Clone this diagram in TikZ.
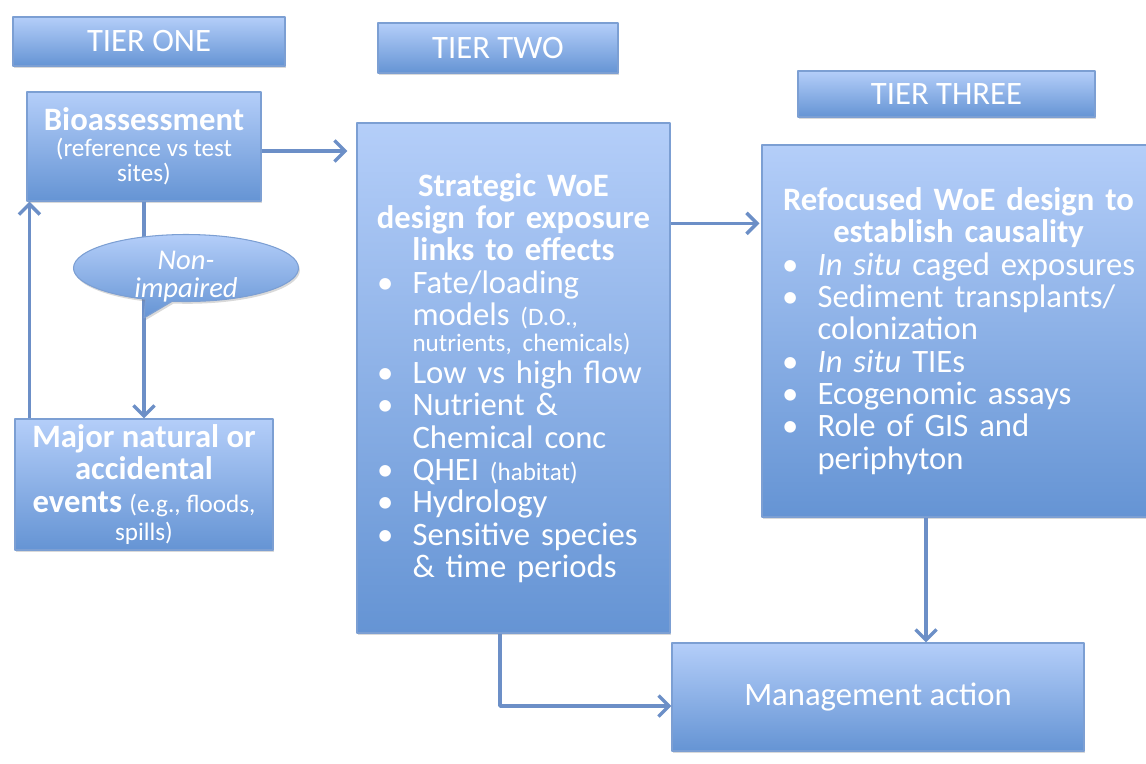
\documentclass[tikz,border=0pt]{standalone}
\usepackage{fontspec}
\setmainfont{Carlito}
\usetikzlibrary{arrows.meta,shadows,shapes.callouts}

\definecolor{boxtop}{RGB}{180,206,249}
\definecolor{boxbot}{RGB}{101,148,212}
\definecolor{boxedge}{RGB}{124,159,211}
\definecolor{linkcol}{RGB}{108,143,199}

\newcommand{\bigtxt}{\fontsize{18.6}{18.4}\selectfont}
\newcommand{\smtxt}{\fontsize{14.3}{14.6}\selectfont}
\newcommand{\bitem}{\hspace*{0.07cm}\makebox[0.71cm][l]{•}}
\newcommand{\bcont}{\hspace*{0.78cm}}

\begin{document}
\begin{tikzpicture}[x=0.02cm,y=-0.02cm,>={Straight Barb[length=2.1mm,width=4.2mm]},line join=round,
	panel/.style={draw=boxedge,line width=0.6pt,top color=boxtop,bottom color=boxbot,text=white,inner sep=0pt,
		drop shadow={shadow xshift=0.8pt,shadow yshift=-1.3pt,opacity=0.3}},
	dims/.style 2 args={minimum width=#1*0.02cm,minimum height=#2*0.02cm},
	tier/.style={panel,font=\bigtxt},
	link/.style={draw=linkcol,line width=2pt}]
	\useasboundingbox (0,0) rectangle (1146,764);
	% tier headers
	\node[tier,dims={272}{49}] (tone) at (149,41.5) {TIER ONE};
	\node[tier,dims={240}{50}] (ttwo) at (498,48) {TIER TWO};
	\node[tier,dims={297}{46}] (tthree) at (946.5,94) {TIER THREE};
	% boxes
	\node[panel,dims={234}{109},align=center,font=\smtxt] (bio) at (144,146.5)
		{{\bigtxt\bfseries Bioassessment}\\(reference vs test\\sites)};
	\node[panel,dims={258}{131},align=center,font=\bigtxt\bfseries] (major) at (144,484.5)
		{Major natural or\\accidental\\events {\mdseries\smtxt(e.g., floods,}\\[-2.5pt]{\mdseries\smtxt spills)}};
	\node[panel,dims={313}{510},text width=5.6cm,align=left,font=\bigtxt] (strat) at (513.5,378)
		{{\centering\bfseries Strategic WoE\\design for exposure\\links to effects\par}
		\bitem Fate/loading\\
		\bcont models {\smtxt(D.O.,}\\[-3.7pt]
		\bcont{\smtxt nutrients, chemicals)}\\
		\bitem Low vs high flow\\
		\bitem Nutrient \&\\
		\bcont Chemical conc\\
		\bitem QHEI {\smtxt(habitat)}\\
		\bitem Hydrology\\
		\bitem Sensitive species\\
		\bcont \& time periods};
	\node[panel,dims={393}{372},text width=7.2cm,align=left,font=\bigtxt] (refoc) at (958.5,331)
		{{\centering\bfseries Refocused WoE design to\\establish causality\par}
		\bitem \textit{In situ} caged exposures\\
		\bitem Sediment transplants/\\
		\bcont colonization\\
		\bitem \textit{In situ} TIEs\\
		\bitem Ecogenomic assays\\
		\bitem Role of GIS and\\
		\bcont periphyton};
	\node[panel,dims={412}{108},font=\bigtxt] (mgmt) at (878,697) {Management action};
	% links
	\draw[link,->] (bio) -- (major);
	\draw[link,->] ([xshift=0.3cm]major.north west) -- ([xshift=0.3cm]major.north west |- bio.south);
	\draw[link,->,shorten >=0.18cm] ([yshift=-0.09cm]bio.east) -- ([yshift=-0.09cm]bio.east -| strat.west);
	\draw[link,->,shorten >=0.04cm] ([yshift=-2.02cm]strat.north east) -- ([yshift=-2.02cm]strat.north east -| refoc.west);
	\draw[link,->] ([xshift=0.96cm]mgmt.north |- refoc.south) -- ([xshift=0.96cm]mgmt.north);
	\draw[link,->] ([xshift=-0.27cm]strat.south) |- ([yshift=-0.18cm]mgmt.west);
	% callout on the link
	\node[panel,ellipse callout,dims={225}{67},callout absolute pointer={(144,318)},callout pointer arc=14] (nonimp) at (186,268) {};
	\node[text=white,align=center,font=\fontsize{16.3}{15.9}\selectfont\itshape] (nonimptxt) at (186,277) {Non-\\impaired};
\end{tikzpicture}
\end{document}
